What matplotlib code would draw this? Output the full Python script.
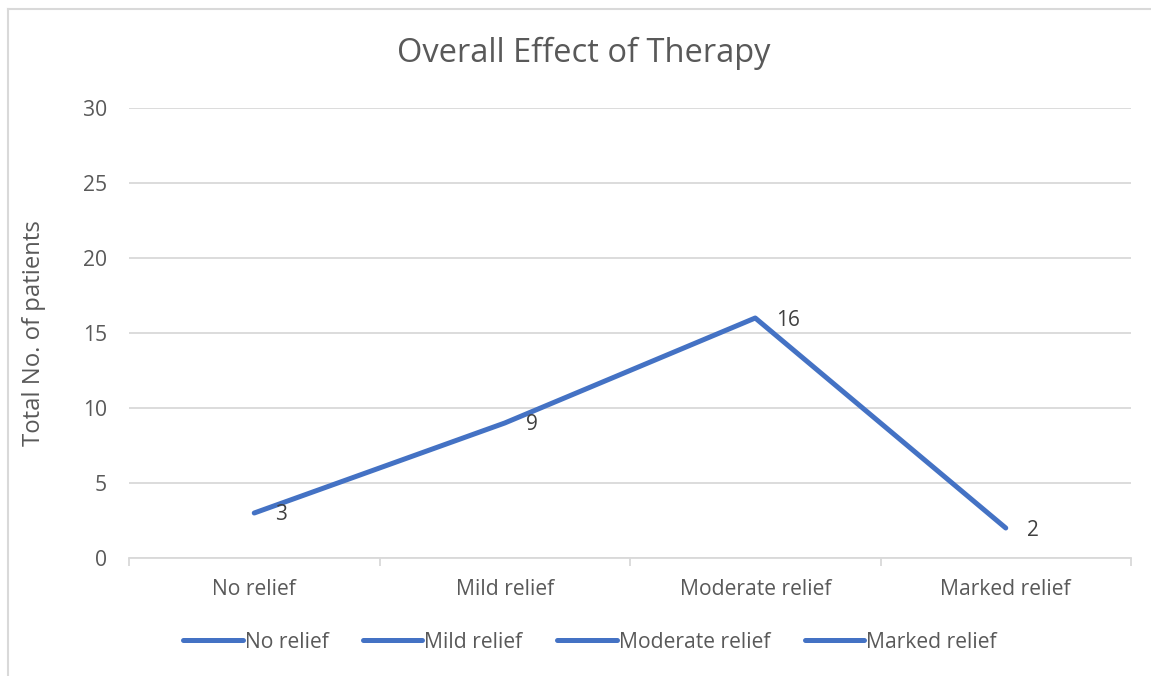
import matplotlib
matplotlib.use("Agg")
from matplotlib import pyplot as plt
from matplotlib.lines import Line2D

categories = ["No relief", "Mild relief", "Moderate relief", "Marked relief"]
patients = [3, 9, 16, 2]
y_ticks = [0, 5, 10, 15, 20, 25, 30]

BLUE = "#4472C4"
GRID = "#D9D9D9"
TEXT = "#595959"

plt.rcParams["font.family"] = ["Open Sans", "DejaVu Sans"]

W, H = 1151, 676
fig = plt.figure(figsize=(W / 100, H / 100), dpi=100)
ax = fig.add_axes([129 / W, 1 - 558 / H, (1131 - 129) / W, (558 - 108) / H])

x = list(range(len(categories)))
ax.plot(x, patients, color=BLUE, linewidth=3.6, solid_capstyle="round",
        solid_joinstyle="round", zorder=3)

for xi, v in zip(x, patients):
    ax.annotate(str(v), (xi, v), xytext=(21, -2), textcoords="offset pixels",
                ha="left", va="center", fontsize=15, color="#404040")

ax.set_xlim(-0.5, len(categories) - 0.5)
ax.set_ylim(0, 30)
ax.set_yticks(y_ticks)
ax.set_xticks(x)
ax.set_xticklabels(categories)
ax.set_xticks([i - 0.5 for i in range(len(categories) + 1)], minor=True)

ax.grid(axis="y", color=GRID, linewidth=1.3)
ax.set_axisbelow(True)
for s in ["top", "right", "left"]:
    ax.spines[s].set_visible(False)
ax.spines["bottom"].set_color(GRID)
ax.spines["bottom"].set_linewidth(1.3)

ax.tick_params(axis="y", length=0, pad=16, labelsize=15.2, labelcolor=TEXT)
ax.tick_params(axis="x", which="major", length=0, pad=15, labelsize=15.2, labelcolor=TEXT)
ax.tick_params(axis="x", which="minor", length=6, width=1.3, color=GRID)

fig.text(34 / W, 1 - 333 / H, "Total No. of patients", rotation=90,
         ha="center", va="center", fontsize=17.2, color=TEXT)
fig.text(584 / W, 1 - 53 / H, "Overall Effect of Therapy", ha="center",
         va="center", fontsize=23.5, color=TEXT)

handles = [Line2D([], [], color=BLUE, linewidth=3.6, solid_capstyle="round")
           for _ in categories]
fig.legend(handles, categories, loc="center", bbox_to_anchor=(590 / W, 1 - 642 / H),
           ncol=4, frameon=False, fontsize=15.2, labelcolor=TEXT,
           handlelength=2.8, handletextpad=0.1, columnspacing=1.65)

# chart border (top and left edges only are visible)
fig.add_artist(Line2D([8 / W, 1], [1 - 9 / H, 1 - 9 / H], color=GRID,
                      linewidth=1.5, transform=fig.transFigure))
fig.add_artist(Line2D([8 / W, 8 / W], [0, 1 - 9 / H], color=GRID,
                      linewidth=1.5, transform=fig.transFigure))

fig.savefig("out.png", dpi=100)
